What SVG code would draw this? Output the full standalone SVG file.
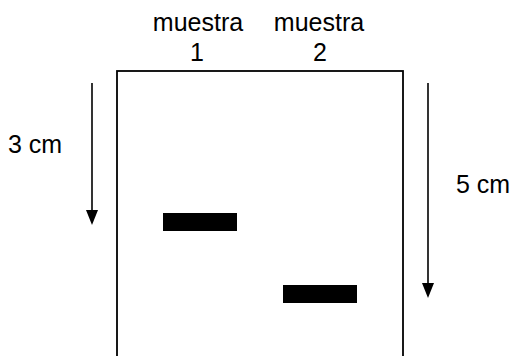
<svg xmlns="http://www.w3.org/2000/svg" width="513" height="356" viewBox="0 0 513 356">
  <style>
    .lbl { font-family: "Liberation Sans", Arial, sans-serif; font-size: 25px; fill: #000; }
    .ln { stroke: #000; stroke-width: 1.6; fill: none; }
    .band { fill: #000; }
  </style>
  <rect width="513" height="356" fill="#fff"/>
  <g id="gel">
    <rect x="117" y="71" width="286" height="300" fill="none" stroke="#000" stroke-width="1.8"/>
  </g>
  <g id="band1"><rect class="band" x="163" y="213" width="74" height="18"/></g>
  <g id="band2"><rect class="band" x="283" y="285" width="74" height="18"/></g>
  <g id="labels">
    <text class="lbl" x="198" y="31" text-anchor="middle">muestra</text>
    <text class="lbl" x="197" y="61" text-anchor="middle">1</text>
    <text class="lbl" x="319" y="31" text-anchor="middle">muestra</text>
    <text class="lbl" x="320" y="61" text-anchor="middle">2</text>
    <text class="lbl" x="8" y="153">3 cm</text>
    <text class="lbl" x="456" y="193">5 cm</text>
  </g>
  <g id="connectors">
    <line class="ln" x1="92" y1="83" x2="92" y2="211"/>
    <polygon points="86,210 98,210 92,225" fill="#000"/>
    <line class="ln" x1="428" y1="83" x2="428" y2="284"/>
    <polygon points="422,283 434,283 428,298" fill="#000"/>
  </g>
</svg>
